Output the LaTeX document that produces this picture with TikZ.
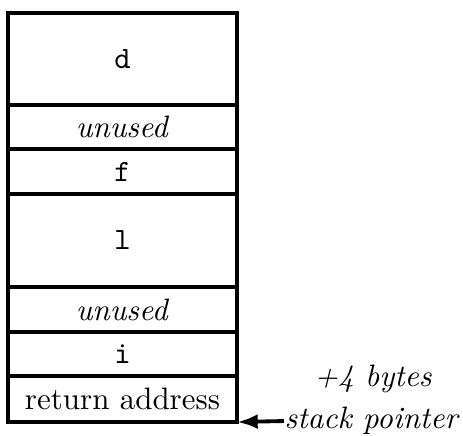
\documentclass[tikz,border=0pt]{standalone}
\usetikzlibrary{arrows.meta,fit}
\begin{document}
\begin{tikzpicture}[x=0.339pt,y=-0.339pt,
  cell/.style={draw,line width=1.3pt,inner sep=0pt,outer sep=0pt},
  txt/.style={inner sep=0pt,font=\fontsize{10.5}{12}\selectfont},
  note/.style={font=\fontsize{10.5}{12}\selectfont\itshape,inner sep=0pt}]
\useasboundingbox (0,0) rectangle (463,435);
\node[cell,fit={(8,13) (237,105)}] (d) {};
\node[cell,fit={(8,105) (237,149)}] (u1) {};
\node[cell,line width=1.6pt,fit={(8,149) (237,194)}] (f) {};
\node[cell,fit={(8,194) (237,287)}] (l) {};
\node[cell,fit={(8,287) (237,332)}] (u2) {};
\node[cell,fit={(8,332) (237,376)}] (i) {};
\node[cell,fit={(8,376) (237,422)}] (ret) {};
\node[txt] (td) at (d.center) {\texttt{d}};
\node[txt] (tu1) at (u1.center) {\textit{unused}};
\node[txt] (tf) at (f.center) {\texttt{f}};
\node[txt] (tl) at (l.center) {\texttt{l}};
\node[txt] (tu2) at (u2.center) {\textit{unused}};
\node[txt] (ti) at (i.center) {\texttt{i}};
\node[txt] (tret) at (ret.center) {return address};
\node[note] (bytes) at (373,379) {+4 bytes};
\node[note,anchor=west] (sp) at (284,421) {stack pointer};
\draw[line width=1.3pt,-{Latex[length=7pt,width=5pt]}] (sp.west) -- (ret.south east);
\end{tikzpicture}
\end{document}
